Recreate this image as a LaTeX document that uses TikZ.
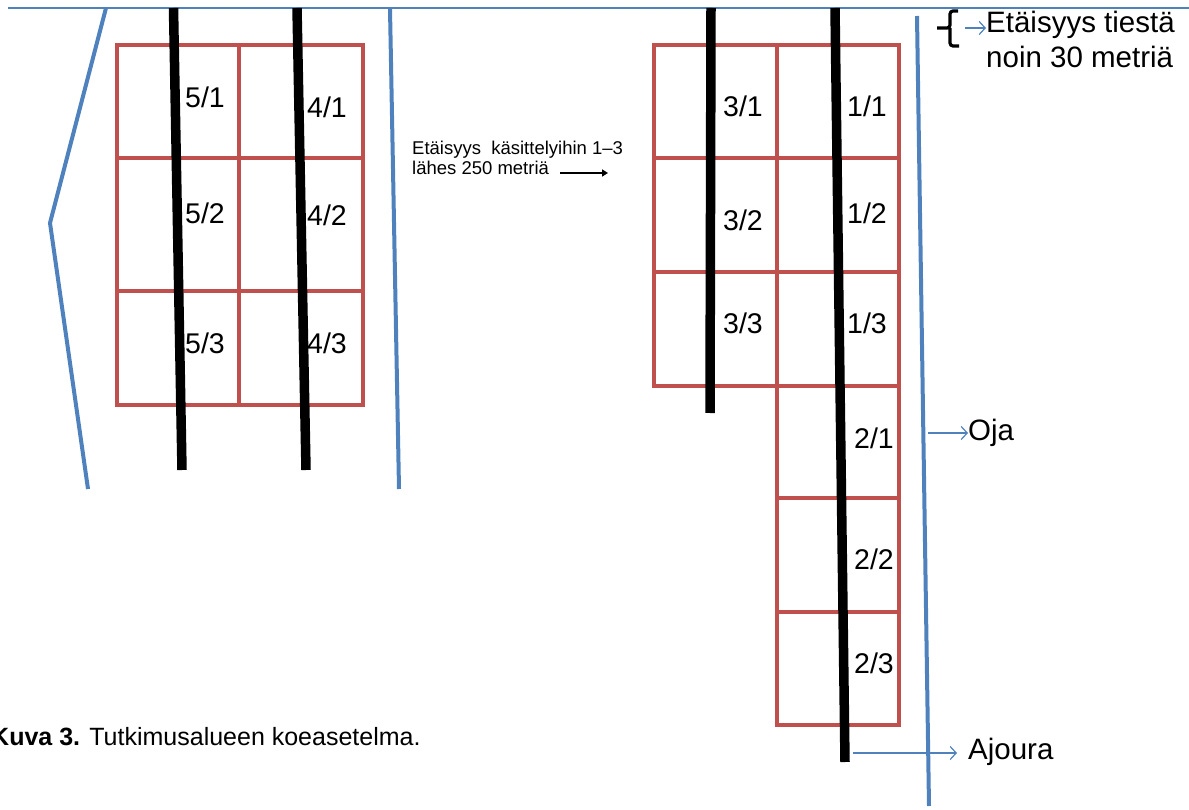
\documentclass[tikz,border=0pt]{standalone}
\usepackage{fontspec}
\setmainfont{Liberation Sans}
\usetikzlibrary{arrows.meta}
\definecolor{plotred}{HTML}{C0504D}
\definecolor{ditch}{HTML}{4F81BD}
\tikzset{
  plot/.style={draw=plotred,line width=3.4pt,line join=miter},
  stripline/.style={draw=black,line width=9.5pt},
  ditchline/.style={draw=ditch,line width=4pt},
  thinblue/.style={draw=ditch,line width=1.3pt},
  pointer/.style={draw=ditch,line width=1.2pt,-{Straight Barb[length=6pt,width=13pt]}},
  lbl/.style={anchor=base west,inner sep=0pt,font=\fontsize{28.5}{30}\selectfont},
  big/.style={anchor=base west,inner sep=0pt,font=\fontsize{29.5}{35}\selectfont},
  mid/.style={anchor=base west,inner sep=0pt,font=\fontsize{18.5}{20}\selectfont},
}
\begin{document}
\begin{tikzpicture}[x=1pt,y=-1pt]
\useasboundingbox (0,0) rectangle (1189,810);
% road line at top
\coordinate (roadL) at (8,8);
\coordinate (roadR) at (1189,8);
\draw[thinblue] (roadL) -- (roadR);
% left plots
\draw[plot] (117,45) rectangle (363,405);
\draw[plot] (239,45) -- (239,405);
\draw[plot] (117,158) -- (363,158);
\draw[plot] (117,291) -- (363,291);
% right plots
\draw[plot] (654,45) rectangle (899,386);
\draw[plot] (777,45) -- (777,725) -- (899,725) -- (899,386);
\draw[plot] (654,158) -- (899,158);
\draw[plot] (654,272) -- (899,272);
\draw[plot] (777,498) -- (899,498);
\draw[plot] (777,612) -- (899,612);
% ditches (blue)
\coordinate (dA) at (106,8);
\coordinate (dB) at (50,223);
\coordinate (dC) at (88,489);
\draw[ditchline] (dA) -- (dB) -- (dC);
\coordinate (dD) at (390,9);
\coordinate (dE) at (399,489);
\draw[ditchline] (dD) -- (dE);
\coordinate (dF) at (917,16);
\coordinate (dG) at (929,806);
\draw[ditchline] (dF) -- (dG);
% strip roads (black)
\coordinate (s1a) at (173.5,8);
\coordinate (s1b) at (182,470);
\coordinate (s2a) at (297,8);
\coordinate (s2b) at (306,470);
\coordinate (s3a) at (711,8);
\coordinate (s3b) at (710,413);
\coordinate (s4a) at (835,8);
\coordinate (s4b) at (845,762);
\draw[stripline] (s1a) -- (s1b);
\draw[stripline] (s2a) -- (s2b);
\draw[stripline] (s3a) -- (s3b);
\draw[stripline] (s4a) -- (s4b);
% plot labels
\node[lbl] (p51) at (185,108) {5/1};
\node[lbl] (p41) at (307,118) {4/1};
\node[lbl] (p52) at (185,224) {5/2};
\node[lbl] (p42) at (307,226) {4/2};
\node[lbl] (p53) at (185,354) {5/3};
\node[lbl] (p43) at (307,354) {4/3};
\node[lbl] (p31) at (723,117) {3/1};
\node[lbl] (p11) at (847,117) {1/1};
\node[lbl] (p32) at (723,231) {3/2};
\node[lbl] (p12) at (847,224) {1/2};
\node[lbl] (p33) at (723,334) {3/3};
\node[lbl] (p13) at (847,334) {1/3};
\node[lbl] (p21) at (854,448) {2/1};
\node[lbl] (p22) at (854,569) {2/2};
\node[lbl] (p23) at (854,673) {2/3};
% top-right note
\node[big] (road) at (986,33) {Etäisyys tiestä};
\node[big] (road2) at (986,68) {noin 30 metriä};
\draw[line width=3.2pt,rounded corners=3pt] (958,11) -- (950,11) -- (950,28) -- (937,28)
  (950,28) -- (950,46) -- (959,46);
\coordinate (brArrow) at (965,28);
\draw[pointer] (brArrow) -- (brArrow -| road.west);
% Oja
\node[big] (oja) at (968,440) {Oja};
\coordinate (ojaS) at (928,433);
\draw[pointer] (ojaS) -- (ojaS -| oja.west);
% Ajoura
\node[big] (ajo) at (968,759) {Ajoura};
\coordinate (ajoS) at (853,753);
\coordinate (ajoE) at (957,753);
\draw[pointer] (ajoS) -- (ajoE);
% middle note
\node[mid] (dist1) at (412,155) {Etäisyys\ \ käsittelyihin 1–3};
\node[mid] (dist2) at (412,175) {lähes 250 metriä};
\coordinate (mA) at (560,173);
\coordinate (mB) at (608,173);
\draw[line width=2.5pt,-{Triangle[length=6pt,width=7pt]}] (mA) -- (mB);
% caption
\node[anchor=base west,inner sep=0pt,font=\fontsize{25}{27}\selectfont] (cap) at (-9,745) {\textbf{Kuva 3.} Tutkimusalueen koeasetelma.};
\end{tikzpicture}
\end{document}
